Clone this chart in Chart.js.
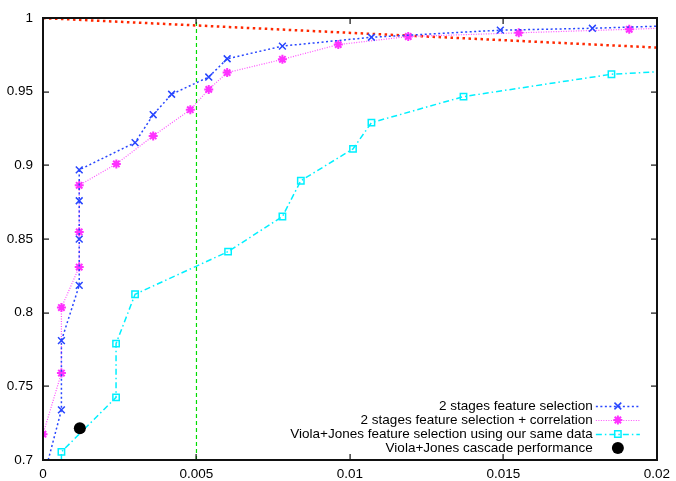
<!DOCTYPE html>
<html>
<head>
<meta charset="utf-8">
<script src="https://cdn.jsdelivr.net/npm/chart.js@4/dist/chart.umd.min.js"></script>
<style>
  html, body { margin: 0; padding: 0; background: #fff; }
  #wrap { width: 676px; height: 481px; }
</style>
</head>
<body>
<div id="wrap"><canvas id="roc"></canvas></div>
<script>
// 2 stages feature selection
var twoStageX = [0.00017, 0.0006, 0.0006, 0.00118, 0.00118, 0.00118, 0.00118, 0.0030, 0.00359, 0.00419, 0.0054, 0.0060, 0.0078, 0.0107, 0.0149, 0.0179, 0.0205];
var twoStageY = [0.700, 0.734, 0.781, 0.8185, 0.850, 0.876, 0.897, 0.9155, 0.9344, 0.9483, 0.960, 0.9724, 0.981, 0.987, 0.9918, 0.9931, 0.9948];

// 2 stages feature selection + correlation
var corrX = [0.0, 0.0006, 0.0006, 0.00118, 0.00118, 0.00118, 0.00239, 0.00359, 0.0048, 0.0054, 0.0060, 0.0078, 0.00962, 0.0119, 0.0155, 0.0191, 0.0205];
var corrY = [0.7175, 0.759, 0.8035, 0.831, 0.8548, 0.8865, 0.901, 0.920, 0.9378, 0.9516, 0.963, 0.972, 0.982, 0.9875, 0.990, 0.9924, 0.9934];

// Viola+Jones feature selection using our same data
var vjX = [0.0006, 0.0006, 0.00238, 0.00238, 0.0030, 0.00603, 0.0078, 0.0084, 0.0101, 0.0107, 0.0137, 0.01852, 0.0205];
var vjY = [0.700, 0.7055, 0.7425, 0.779, 0.8125, 0.8415, 0.8653, 0.8896, 0.9112, 0.929, 0.9467, 0.9619, 0.9641];

// Viola+Jones cascade performance
var cascadeX = [0.0012];
var cascadeY = [0.7215];

// reference lines
var diagX = [0, 0.02];
var diagY = [1, 0.98];
var vlineX = [0.005, 0.005];
var vlineY = [0.7, 1];

var xTicks = ["0", "0.005", "0.01", "0.015", "0.02"];
var yTicks = ["0.7", "0.75", "0.8", "0.85", "0.9", "0.95", "1"];

var labels = [
  "2 stages feature selection",
  "2 stages feature selection + correlation",
  "Viola+Jones feature selection using our same data",
  "Viola+Jones cascade performance"
];

function pts(xs, ys) {
  return xs.map(function(x, i) { return { x: x, y: ys[i] }; });
}
// hide the marker on the points that only carry the line off the plot edge
function radii(n, r, hidden) {
  return Array.from({ length: n }, function(_, i) { return hidden.indexOf(i) >= 0 ? 0 : r; });
}

var FONT = "'Liberation Sans', Helvetica, Arial, sans-serif";

var framePlugin = {
  id: 'frame',
  afterDraw: function(chart) {
    var ctx = chart.ctx, a = chart.chartArea;
    var xs = chart.scales.x, ys = chart.scales.y;
    var L = Math.round(a.left), R = Math.round(a.right);
    var T = Math.round(a.top), B = Math.round(a.bottom);
    ctx.save();
    ctx.fillStyle = '#111';
    // inward tick marks on all four sides
    xs.ticks.forEach(function(t) {
      var px = Math.round(xs.getPixelForValue(t.value));
      ctx.fillRect(px - 0.5, B - 6, 1.2, 6);
      ctx.fillRect(px - 0.5, T, 1.2, 6);
    });
    ys.ticks.forEach(function(t) {
      var py = Math.round(ys.getPixelForValue(t.value));
      ctx.fillRect(L, py - 0.5, 6, 1.2);
      ctx.fillRect(R - 6, py - 0.5, 6, 1.2);
    });
    // frame
    ctx.fillRect(L - 1, T - 1, R - L + 2, 2);
    ctx.fillRect(L - 1, B - 1, R - L + 2, 2);
    ctx.fillRect(L - 1, T - 1, 2, B - T + 2);
    ctx.fillRect(R - 1, T - 1, 2, B - T + 2);

    // key, bottom right inside the plot
    var ds = chart.data.datasets;
    var textRight = a.right - 64, sx0 = a.right - 61, sx1 = a.right - 17;
    var rowY = a.bottom - 54;
    ctx.font = '13.5px ' + FONT;
    ctx.textAlign = 'right';
    ctx.textBaseline = 'middle';
    for (var i = 0; i < 4; i++) {
      var d = ds[i];
      var y = rowY + i * 14;
      ctx.fillStyle = '#000';
      ctx.fillText(d.label, textRight, y);
      if (d.showLine !== false) {
        ctx.save();
        ctx.strokeStyle = d.borderColor;
        ctx.lineWidth = d.borderWidth;
        ctx.setLineDash(d.borderDash);
        ctx.beginPath();
        ctx.moveTo(sx0, y + 0.5); ctx.lineTo(sx1, y + 0.5);
        ctx.stroke();
        ctx.restore();
      }
      ctx.save();
      ctx.fillStyle = d.pointBackgroundColor;
      ctx.strokeStyle = d.pointBorderColor;
      ctx.lineWidth = d.pointBorderWidth;
      Chart.helpers.drawPoint(ctx, {
        pointStyle: d.pointStyle,
        radius: d.legendRadius,
        borderWidth: d.pointBorderWidth
      }, (sx0 + sx1) / 2, y);
      ctx.restore();
    }
    ctx.restore();
  }
};

var ctx = document.getElementById('roc').getContext('2d');
var config = {
  type: 'scatter',
  data: {
    datasets: [{
      label: labels[0],
      data: pts(twoStageX, twoStageY),
      showLine: true,
      borderColor: 'rgb(40,70,255)',
      borderWidth: 1.5,
      borderDash: [2, 2.5],
      pointStyle: 'crossRot',
      pointRadius: radii(twoStageX.length, 4.8, [0, twoStageX.length - 1]),
      legendRadius: 4.8,
      pointBorderColor: 'rgb(40,70,255)',
      pointBackgroundColor: 'rgb(40,70,255)',
      pointBorderWidth: 1.5,
      order: 2
    }, {
      label: labels[1],
      data: pts(corrX, corrY),
      showLine: true,
      borderColor: 'rgb(255,80,255)',
      borderWidth: 1.2,
      borderDash: [1, 1.5],
      pointStyle: 'star',
      pointRadius: radii(corrX.length, 4.5, [corrX.length - 1]),
      legendRadius: 4.5,
      pointBorderColor: 'rgb(255,50,255)',
      pointBackgroundColor: 'rgb(255,50,255)',
      pointBorderWidth: 2,
      order: 3
    }, {
      label: labels[2],
      data: pts(vjX, vjY),
      showLine: true,
      borderColor: 'rgb(0,240,255)',
      borderWidth: 1.5,
      borderDash: [6, 3, 1.5, 3],
      pointStyle: 'rect',
      pointRadius: radii(vjX.length, 4.5, [0, vjX.length - 1]),
      legendRadius: 4.5,
      pointBorderColor: 'rgb(0,240,255)',
      pointBackgroundColor: 'rgba(0,0,0,0)',
      pointBorderWidth: 1.5,
      order: 4
    }, {
      label: labels[3],
      data: pts(cascadeX, cascadeY),
      showLine: false,
      pointStyle: 'circle',
      pointRadius: 6,
      legendRadius: 6,
      pointBorderColor: '#000',
      pointBackgroundColor: '#000',
      pointBorderWidth: 0,
      order: 1
    }, {
      label: 'diag',
      data: pts(diagX, diagY),
      showLine: true,
      borderColor: 'rgb(255,40,0)',
      borderWidth: 2.5,
      borderDash: [2.5, 3.5],
      pointRadius: 0,
      order: 5
    }, {
      label: 'fp005',
      data: pts(vlineX, vlineY),
      showLine: true,
      borderColor: 'rgb(0,220,0)',
      borderWidth: 1.2,
      borderDash: [4, 3],
      pointRadius: 0,
      order: 6
    }]
  },
  options: {
    responsive: true,
    maintainAspectRatio: false,
    animation: false,
    layout: { padding: { top: 12, right: 19, left: 0, bottom: 0 } },
    plugins: { legend: { display: false }, tooltip: { enabled: false } },
    scales: {
      x: {
        type: 'linear',
        min: 0, max: 0.02,
        grid: { display: false, drawTicks: false },
        border: { display: false },
        afterFit: function(s) { s.height = 21; },
        ticks: {
          stepSize: 0.005,
          padding: 6,
          color: '#000',
          font: { family: FONT, size: 13.5 },
          maxRotation: 0,
          callback: function(v) { return xTicks[Math.round(v / 0.005)]; }
        }
      },
      y: {
        type: 'linear',
        min: 0.7, max: 1,
        grid: { display: false, drawTicks: false },
        border: { display: false },
        afterFit: function(s) { s.width = 43; },
        ticks: {
          stepSize: 0.05,
          padding: 10,
          color: '#000',
          font: { family: FONT, size: 13.5 },
          callback: function(v) { return yTicks[Math.round((v - 0.7) / 0.05)]; }
        }
      }
    }
  },
  plugins: [framePlugin]
};

var chart = new Chart(ctx, config);
</script>
</body>
</html>
